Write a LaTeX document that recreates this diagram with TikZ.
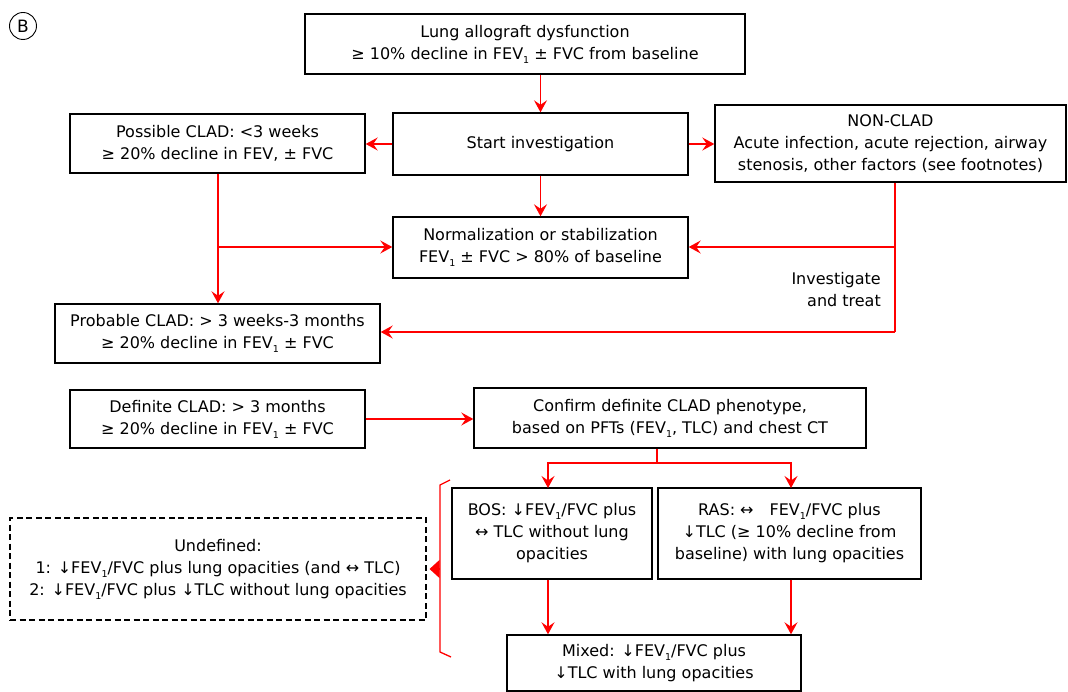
\documentclass[tikz,border=0pt]{standalone}
\usepackage{fontspec}
\setmainfont{DejaVu Sans}
\usetikzlibrary{arrows.meta}
\newcommand\lowsub[1]{\raisebox{-0.45ex}{\fontsize{9.5}{9.5}\selectfont #1}}
\newcommand\FEVi{FEV\lowsub{1}}
\begin{document}
\begin{tikzpicture}[x=1pt,y=-1pt,
  box/.style={draw=black, line width=1.4pt, align=center, inner sep=0pt,
    font=\fontsize{16}{22}\selectfont},
  dbox/.style={box, line width=1.1pt, dash pattern=on 6pt off 3.5pt},
  flow/.style={draw=red, line width=1.3pt,
    -{Stealth[length=12pt,width=13pt,inset=4.5pt]}},
  link/.style={draw=red, line width=1.3pt},
  lbl/.style={font=\fontsize{16}{22}\selectfont, inner sep=0pt}]
\useasboundingbox (0,0) rectangle (1068,692);

% panel letter
\node[draw, circle, line width=0.9pt, minimum size=27pt, inner sep=0pt,
  font=\fontsize{17}{17}\selectfont] (panel) at (23,26) {B};

% boxes
\node[box, minimum width=440pt, minimum height=60pt] (top) at (525,44)
  {Lung allograft dysfunction\\≥ 10\% decline in \FEVi{} ± FVC from baseline};
\node[box, minimum width=295pt, minimum height=62pt] (start) at (540.5,144)
  {Start investigation};
\node[box, minimum width=295pt, minimum height=59pt] (poss) at (217.5,143.5)
  {Possible CLAD: <3 weeks\\≥ 20\% decline in FEV, ± FVC};
\node[box, minimum width=351pt, minimum height=77pt] (non) at (890.5,143.5)
  {NON-CLAD\\Acute infection, acute rejection, airway\\stenosis, other factors (see footnotes)};
\node[box, minimum width=295pt, minimum height=61pt] (norm) at (540.5,247.5)
  {Normalization or stabilization\\\FEVi{} ± FVC > 80\% of baseline};
\node[box, minimum width=325pt, minimum height=59pt] (prob) at (217.5,333.5)
  {Probable CLAD: > 3 weeks-3 months\\≥ 20\% decline in \FEVi{} ± FVC};
\node[box, minimum width=295pt, minimum height=58pt] (defn) at (217.5,419)
  {Definite CLAD: > 3 months\\≥ 20\% decline in \FEVi{} ± FVC};
\node[box, minimum width=392pt, minimum height=60pt] (conf) at (670,418)
  {Confirm definite CLAD phenotype,\\based on PFTs (\FEVi, TLC) and chest CT};
\node[box, minimum width=200pt, minimum height=91pt] (bos) at (552,533.5)
  {BOS: ↓\FEVi/FVC plus\\↔ TLC without lung\\opacities};
\node[box, minimum width=263pt, minimum height=91pt] (ras) at (789.5,533.5)
  {RAS: ↔\quad\FEVi/FVC plus\\↓TLC (≥ 10\% decline from\\baseline) with lung opacities};
\node[box, minimum width=294pt, minimum height=56pt] (mixed) at (654,663)
  {Mixed: ↓\FEVi/FVC plus\\↓TLC with lung opacities};
\node[dbox, minimum width=416pt, minimum height=102pt] (undef) at (218,569)
  {Undefined:\\1: ↓\FEVi/FVC plus lung opacities (and ↔ TLC)\\2: ↓\FEVi/FVC plus ↓TLC without lung opacities};

% label on the return path
\node[lbl, anchor=east, align=right] (inv) at (881,290) {Investigate\\and treat};

% connectors
\draw[flow] (top.south -| start) -- (start.north);
\draw[flow] (start.west) -- (poss.east |- start.west);
\draw[flow] (start.east) -- (non.west |- start.east);
\draw[flow] (start.south) -- (norm.north);

\coordinate (pa) at (218,247);
\draw[flow] (poss.south -| pa) -- (prob.north -| pa);
\draw[flow] (pa) -- (norm.west |- pa);

\coordinate (na) at (895,247);
\coordinate (nb) at (895,332);
\draw[link] (non.south -| na) -- (nb);
\draw[flow] (na) -- (norm.east |- na);
\draw[flow] (nb) -- (prob.east |- nb);

\draw[flow] (defn.east) -- (conf.west |- defn.east);

\coordinate (cs) at (657,463);
\draw[link] (conf.south -| cs) -- (cs);
\draw[flow] (cs) -| (548,488);
\draw[flow] (cs) -| (791,488);

\draw[flow] (bos.south -| 548,0) -- (mixed.north -| 548,0);
\draw[flow] (ras.south -| 791,0) -- (mixed.north -| 791,0);

% bracket grouping the phenotypes
\coordinate (bt) at (440,485);
\coordinate (bb) at (440,652);
\coordinate (bm) at (440,569);
\draw[link, line join=miter] (450,480) -- (bt) -- (bb) -- (451,657);
\draw[red, line width=1.3pt, -{Triangle[length=10pt,width=18pt]}, shorten >=3pt] (bm) -- (undef.east);
\end{tikzpicture}
\end{document}
